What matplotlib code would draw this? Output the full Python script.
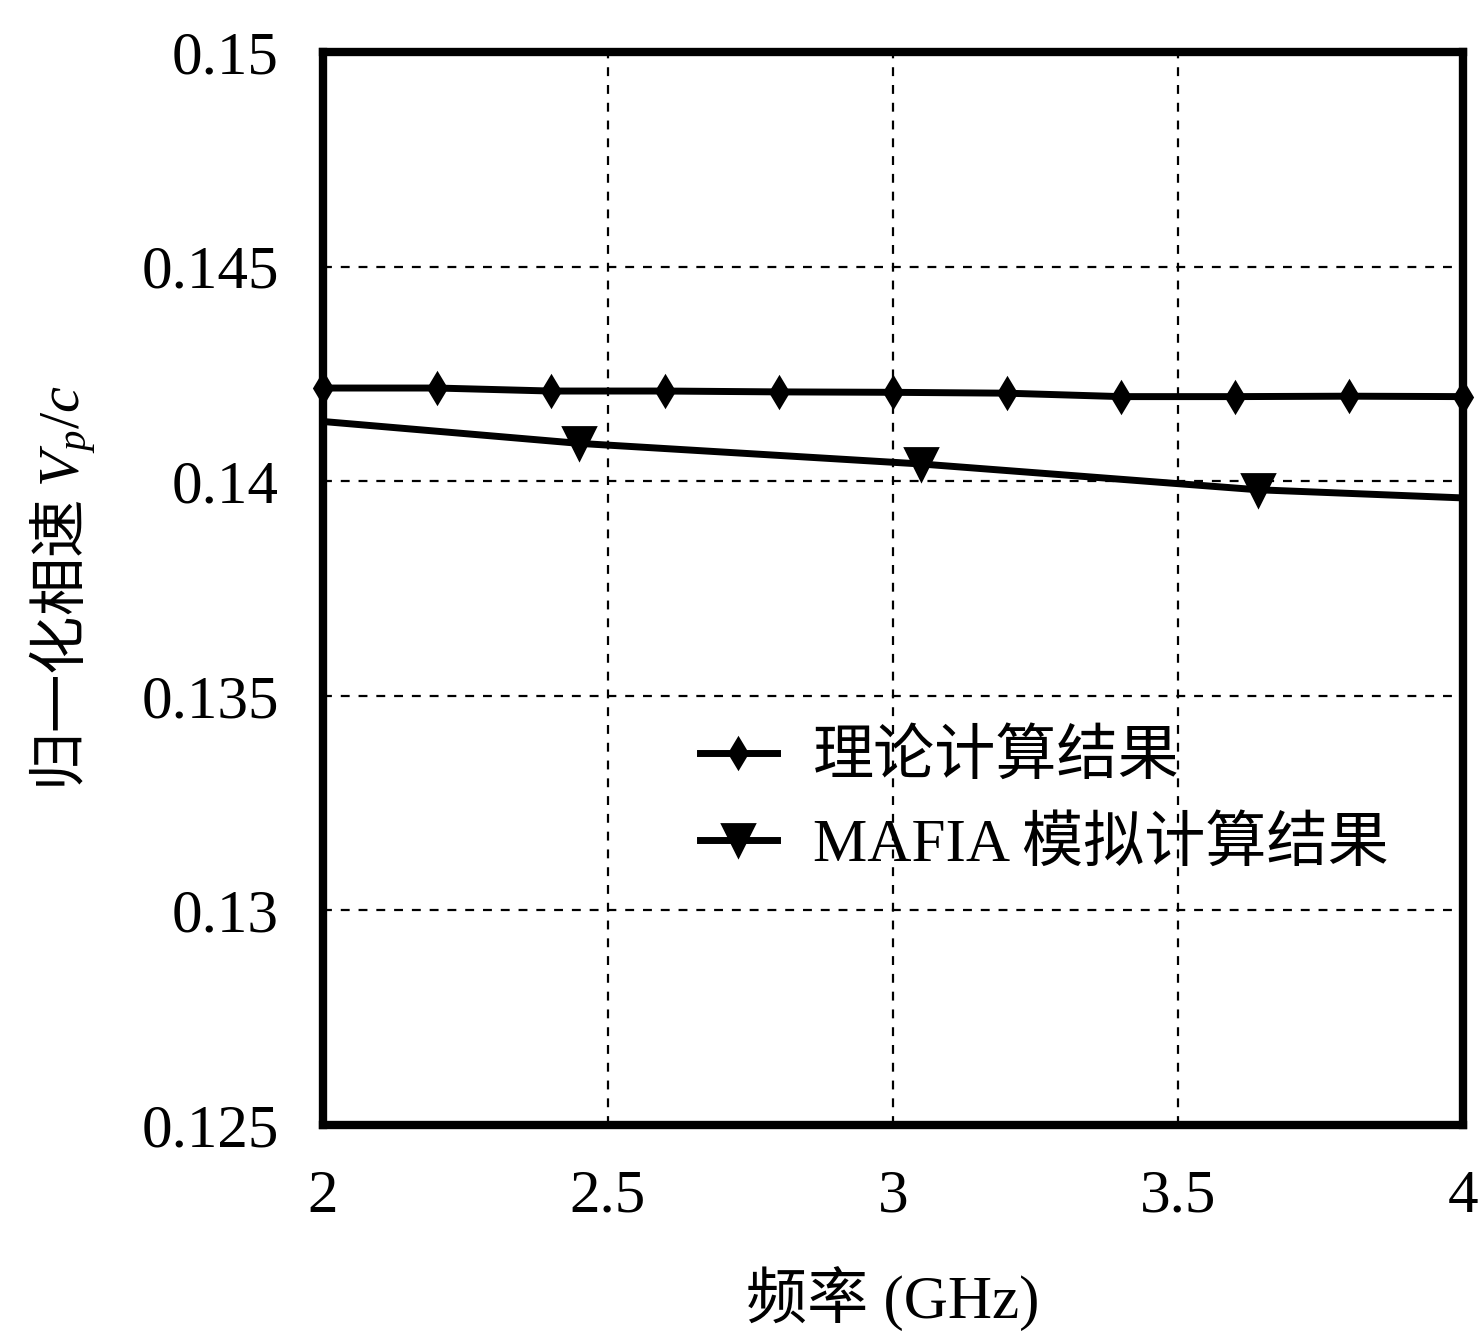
import matplotlib
matplotlib.use("Agg")
import matplotlib.pyplot as plt

plt.rcParams['font.family'] = ['Liberation Serif', 'Noto Sans CJK SC', 'DejaVu Sans']
plt.rcParams['mathtext.fontset'] = 'custom'
plt.rcParams['mathtext.rm'] = 'Liberation Serif'
plt.rcParams['mathtext.it'] = 'Liberation Serif:italic'

# Data
theory_x = [2.0, 2.2, 2.4, 2.6, 2.8, 3.0, 3.2, 3.4, 3.6, 3.8, 4.0]
theory_y = [0.14217, 0.14217, 0.14210, 0.14210, 0.14208, 0.14207,
            0.14205, 0.14197, 0.14197, 0.14198, 0.14197]
mafia_x = [2.0, 2.45, 3.05, 3.64, 4.0]
mafia_y = [0.14139, 0.14088, 0.14040, 0.13980, 0.13961]
mafia_marker_idx = [1, 2, 3]

xticks = [2, 2.5, 3, 3.5, 4]
xticklabels = ['2', '2.5', '3', '3.5', '4']
yticks = [0.125, 0.13, 0.135, 0.14, 0.145, 0.15]
yticklabels = ['0.125', '0.13', '0.135', '0.14', '0.145', '0.15']

label_theory = '理论计算结果'
label_mafia = 'MAFIA 模拟计算结果'
xlabel = '频率 (GHz)'
ylabel = '归一化相速 $V_p/c$'

fig = plt.figure(figsize=(14.82, 13.32), dpi=100)
ax = fig.add_axes([0.218, 0.1554, 0.769, 0.8056])

ax.plot(theory_x, theory_y, color='black', lw=5, marker='d', ms=15,
        mew=2, mfc='black', mec='black', label=label_theory, clip_on=False, zorder=3)
ax.plot(mafia_x, mafia_y, color='black', lw=5, marker='v', ms=23,
        mew=2, mfc='black', mec='black', markevery=mafia_marker_idx,
        label=label_mafia, zorder=3)

ax.set_xlim(2, 4)
ax.set_ylim(0.125, 0.15)
ax.set_xticks(xticks)
ax.set_xticklabels(xticklabels)
ax.set_yticks(yticks)
ax.set_yticklabels(yticklabels)
ax.tick_params(axis='both', length=0, labelsize=44, colors='black')
ax.tick_params(axis='y', pad=32)
ax.tick_params(axis='x', pad=32)

ax.grid(True, color='black', lw=1.6, linestyle=(0, (4, 4)))
for s in ax.spines.values():
    s.set_linewidth(6)
    s.set_color('black')

ax.set_xlabel(xlabel, fontsize=44, labelpad=30)
ax.set_ylabel(ylabel, fontsize=42, labelpad=30, family='Noto Sans CJK SC')

leg = ax.legend(loc='upper left', bbox_to_anchor=(0.331, 0.368), frameon=False,
                fontsize=44, handlelength=1.25, handletextpad=0.6,
                labelspacing=0.5, borderpad=0, borderaxespad=0)

fig.savefig('out.png', dpi=100)
